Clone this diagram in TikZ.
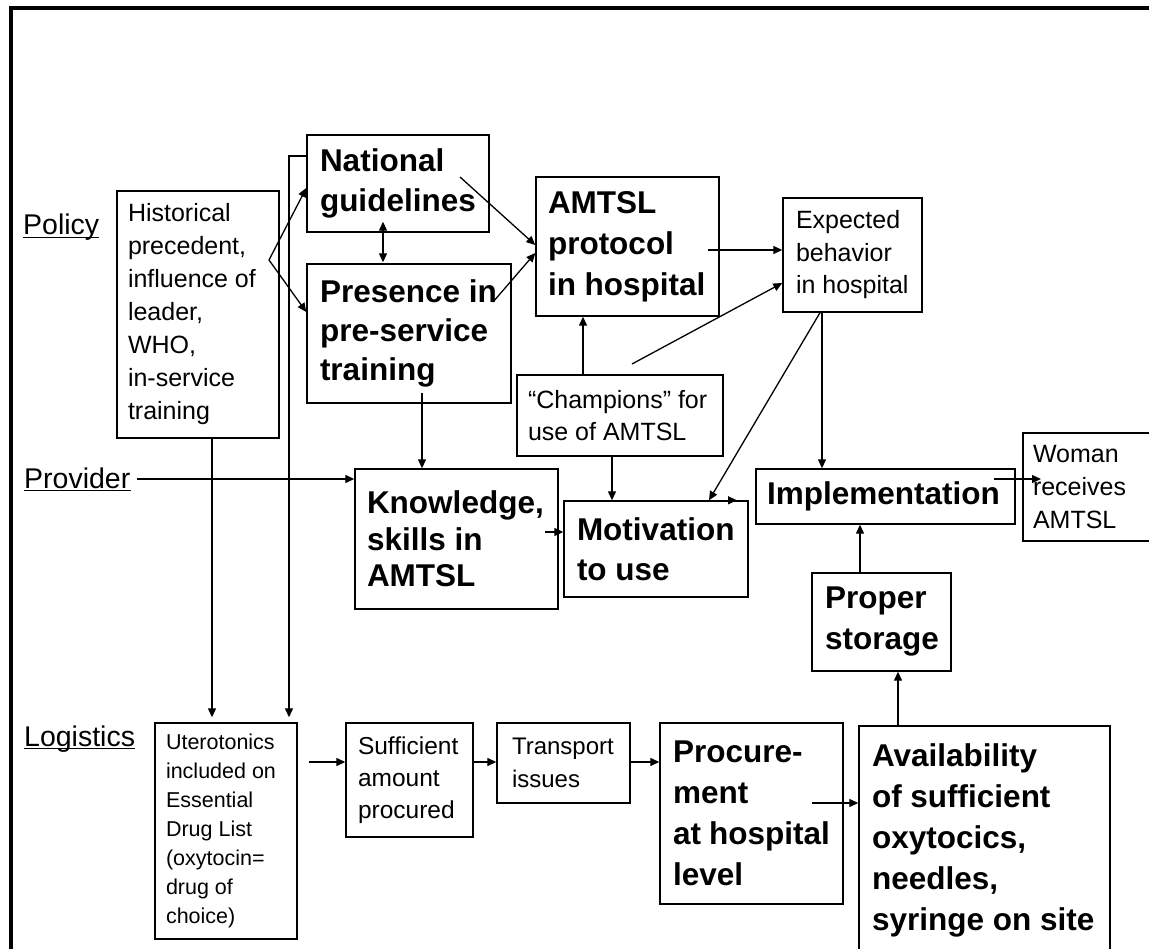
\documentclass[tikz,border=0pt]{standalone}
\usepackage{fontspec}
\setmainfont{Liberation Sans}
\usetikzlibrary{arrows.meta}
\newcommand\fBold[2]{\fontsize{#1}{#2}\selectfont\bfseries\hyphenpenalty=10000\exhyphenpenalty=10000\relax}
\newcommand\fReg[2]{\fontsize{#1}{#2}\selectfont\hyphenpenalty=10000\exhyphenpenalty=10000\relax}
\begin{document}
\begin{tikzpicture}[x=1pt,y=-1pt,
  bx/.style={draw, line width=1.4pt, align=flush left, inner ysep=0pt, anchor=center},
  arr/.style={-{Triangle[length=9pt,width=8pt]}, line width=1.3pt},
  dbl/.style={{Triangle[length=9pt,width=8pt]}-{Triangle[length=9pt,width=8pt]}, line width=1.3pt},
  lab/.style={inner sep=0pt, anchor=base west, font={\fReg{28.5}{34}}}]
\useasboundingbox (0,0) rectangle (1149,949);
\clip (0,0) rectangle (1149,949);
\fill[white] (0,0) rectangle (1149,949);
\draw[line width=4.5pt, line join=miter] (11,960) -- (11,8) -- (1160,8);

% boxes
\node[bx, minimum width=162pt, minimum height=247pt, text width=140pt, inner xsep=11pt, font={\fReg{25}{33}}] (hist) at (198,314.5)
  {Historical\\precedent,\\influence~of\\leader,\\WHO,\\in-service\\training};
\node[bx, minimum width=182pt, minimum height=97pt, text width=156pt, inner xsep=13pt, font={\fBold{31.5}{40}}] (nat) at (398,183.5)
  {National\\guidelines};
\node[bx, minimum width=204pt, minimum height=139pt, text width=178pt, inner xsep=13pt, font={\fBold{31.5}{39}}] (pres) at (409,333.5)
  {Presence~in\\pre-service\\training};
\node[bx, minimum width=183pt, minimum height=139pt, text width=159pt, inner xsep=12pt, font={\fBold{31.5}{41}}] (amt) at (627.5,246.5)
  {AMTSL\\protocol\\in~hospital};
\node[bx, minimum width=139pt, minimum height=114pt, text width=113pt, inner xsep=13pt, font={\fReg{25}{32.5}}] (exp) at (852.5,255)
  {Expected\\behavior\\in~hospital};
\node[bx, minimum width=206pt, minimum height=81pt, text width=184pt, inner xsep=11pt, font={\fReg{25}{32}}] (champ) at (620,415.5)
  {“Champions”~for\\use~of~AMTSL};
\node[bx, minimum width=203pt, minimum height=140pt, text width=179pt, inner xsep=12pt, font={\fBold{31.5}{36.5}}] (know) at (456.5,539)
  {Knowledge,\\skills~in\\AMTSL};
\node[bx, minimum width=184pt, minimum height=96pt, text width=158pt, inner xsep=13pt, font={\fBold{31.5}{40}}] (mot) at (656,549)
  {Motivation\\to~use};
\node[bx, minimum width=259pt, minimum height=55pt, text width=237pt, inner xsep=11pt, font={\fBold{31.5}{40}}] (impl) at (885.5,496.5)
  {Implementation};
\node[bx, minimum width=142pt, minimum height=108pt, text width=122pt, inner xsep=10pt, font={\fReg{25}{33}}] (woman) at (1094,487)
  {Woman\\receives\\AMTSL};
\node[bx, minimum width=139pt, minimum height=98pt, text width=113pt, inner xsep=13pt, font={\fBold{31.5}{41}}] (proper) at (881.5,622)
  {Proper\\storage};
\node[bx, minimum width=251pt, minimum height=228pt, text width=225pt, inner xsep=13pt, font={\fBold{31.5}{41}}] (avail) at (984.5,840)
  {Availability\\of~sufficient\\oxytocics,\\needles,\\syringe~on~site};
\node[bx, minimum width=183pt, minimum height=181pt, text width=157pt, inner xsep=13pt, font={\fBold{31.5}{41}}] (proc) at (751.5,813.5)
  {Procure-\\ment\\at~hospital\\level};
\node[bx, minimum width=133pt, minimum height=80pt, text width=103pt, inner xsep=15pt, font={\fReg{24}{33}}] (trans) at (563.5,763)
  {Transport\\issues};
\node[bx, minimum width=127pt, minimum height=114pt, text width=103pt, inner xsep=12pt, font={\fReg{24.5}{32}}] (suff) at (409.5,780)
  {Sufficient\\amount\\procured};
\node[bx, minimum width=142pt, minimum height=216pt, text width=120pt, inner xsep=11pt, font={\fReg{21.5}{29}}] (ute) at (226,831)
  {Uterotonics\\included~on\\Essential\\Drug~List\\(oxytocin=\\drug~of\\choice)};

% row labels
\node[lab] (pol) at (23,235) {Policy};
\node[lab] (prov) at (24,488) {Provider};
\node[lab] (logi) at (24,746) {Logistics};
\foreach \n in {pol,prov,logi}
  \draw[line width=1.4pt] ([yshift=-2.5pt]\n.base west) -- ([yshift=-2.5pt]\n.base east);

% helper coordinates
\coordinate (hfork) at (269,260);
\coordinate (natbend) at (289,156);
\coordinate (provstart) at ([xshift=6pt,yshift=9pt]prov.base east);
\coordinate (h1) at ([xshift=14pt]hist.south);
\coordinate (a1) at ([xshift=80.5pt,yshift=-3.5pt]amt.center);
\coordinate (c1) at ([xshift=-37pt]champ.north);
\coordinate (e1) at ([xshift=-30.5pt]exp.south);
\coordinate (c2) at ([xshift=-8pt]champ.south);
\coordinate (p1) at ([xshift=13pt,yshift=-59.5pt]pres.center);
\coordinate (k1) at ([xshift=88.5pt,yshift=7pt]know.center);
\coordinate (i1) at ([xshift=108.5pt,yshift=17.5pt]impl.center);
\coordinate (wtip) at (1041,479);
\coordinate (s1) at ([xshift=-21.5pt]proper.north);
\coordinate (v1) at ([xshift=-86.5pt]avail.north);
\coordinate (r1) at ([xshift=60.5pt,yshift=10.5pt]proc.center);
\coordinate (t1) at ([yshift=1pt]trans.east);
\coordinate (f1) at ([yshift=18pt]suff.east);
\coordinate (u1) at ([xshift=11pt,yshift=69pt]ute.east);

% connectors
\draw[arr] (provstart) -- (provstart -| know.west);
\draw[arr, shorten >=5pt] (h1) -- (h1 |- ute.north);
\draw[arr, shorten >=5pt] ([yshift=27.5pt]nat.west) -- (natbend) -- (natbend |- ute.north);
\draw[arr] (hfork) -- ([yshift=-4.5pt]nat.west);
\draw[arr] (hfork) -- ([yshift=21.5pt]pres.west);
\draw[dbl] ([xshift=-15pt,yshift=11pt]nat.south) -- ([xshift=-26pt,yshift=1pt]pres.north);
\draw[arr] ([xshift=62pt,yshift=6.5pt]nat.center) -- ([yshift=1.5pt]amt.west);
\draw[arr] ([xshift=84pt,yshift=31.5pt]pres.center) -- ([yshift=-6.5pt]amt.west);
\draw[arr] (a1) -- (a1 -| exp.west);
\draw[arr] (c1) -- (c1 |- amt.south);
\draw[arr] ([xshift=12pt,yshift=51.5pt]champ.center) -- ([yshift=-28pt]exp.west);
\draw[arr] (e1) -- (e1 |- impl.north);
\draw[arr] ([xshift=-32.5pt]exp.south) -- ([xshift=53pt]mot.north);
\draw[arr] (c2) -- (c2 |- mot.north);
\draw[arr] (p1) -- (p1 |- know.north);
\draw[arr] (k1) -- (k1 -| mot.west);
\draw[arr] ([xshift=50pt]mot.north) -- ([xshift=81pt]mot.north);
\draw[arr] (i1) -- (wtip);
\draw[arr] (s1) -- (s1 |- impl.south);
\draw[arr] (v1) -- (v1 |- proper.south);
\draw[arr] (r1) -- (r1 -| avail.west);
\draw[arr] (t1) -- (t1 -| proc.west);
\draw[arr] (f1) -- (f1 -| trans.west);
\draw[arr] (u1) -- (u1 -| suff.west);
\end{tikzpicture}
\end{document}
